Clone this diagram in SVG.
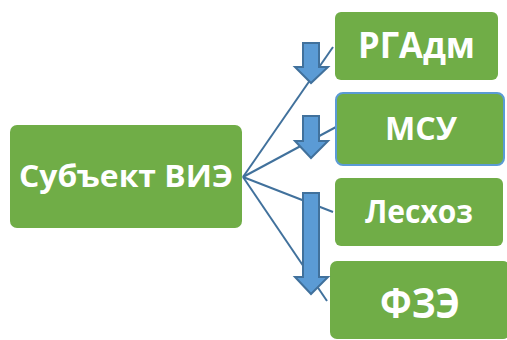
<svg xmlns="http://www.w3.org/2000/svg" width="507" height="340" viewBox="0 0 507 340">
<style>
.box{fill:#70AD47;}
.lbl{fill:#FFFFFF;font-family:"Open Sans","Liberation Sans",sans-serif;font-weight:bold;text-anchor:middle;}
.con{stroke:#41719C;stroke-width:2;fill:none;}
.barrow{fill:#5B9BD5;stroke:#41719C;stroke-width:2;stroke-linejoin:miter;}
</style>
<rect width="507" height="340" fill="#FFFFFF"/>
<g id="connectors">
<line class="con" x1="243" y1="177" x2="333" y2="47"/>
<line class="con" x1="243" y1="177" x2="336" y2="127"/>
<line class="con" x1="243" y1="177" x2="333" y2="212"/>
<line class="con" x1="243" y1="177" x2="327" y2="301"/>
</g>
<g id="node-subject">
<rect class="box" x="10" y="125" width="232" height="103" rx="7"/>
<text class="lbl" x="126" y="187" font-size="30.5" textLength="214" lengthAdjust="spacingAndGlyphs">Субъект ВИЭ</text>
</g>
<g id="node-rgadm">
<rect class="box" x="335" y="12" width="163" height="68" rx="6"/>
<text class="lbl" x="416.5" y="58" font-size="36" textLength="117" lengthAdjust="spacingAndGlyphs">РГАдм</text>
</g>
<g id="node-msu">
<rect class="box" x="336" y="93" width="168" height="72" rx="7" stroke="#5B9BD5" stroke-width="2"/>
<text class="lbl" x="421" y="140" font-size="33" textLength="72" lengthAdjust="spacingAndGlyphs">МСУ</text>
</g>
<g id="node-leshoz">
<rect class="box" x="335" y="178" width="168" height="68" rx="6"/>
<text class="lbl" x="419" y="223" font-size="32" textLength="108" lengthAdjust="spacingAndGlyphs">Лесхоз</text>
</g>
<g id="node-fze">
<rect class="box" x="330" y="261" width="180" height="78" rx="7"/>
<text class="lbl" x="420" y="318" font-size="42" textLength="80" lengthAdjust="spacingAndGlyphs">ФЗЭ</text>
</g>
<g id="arrows">
<path class="barrow" d="M303,43 L319,43 L319,67 L328,67 L311,83 L295,67 L303,67 Z"/>
<path class="barrow" d="M303,116 L319,116 L319,141 L328,141 L311,158 L295,141 L303,141 Z"/>
<path class="barrow" d="M303,193 L319,193 L319,277 L328,277 L311,294 L295,277 L303,277 Z"/>
</g>
</svg>
